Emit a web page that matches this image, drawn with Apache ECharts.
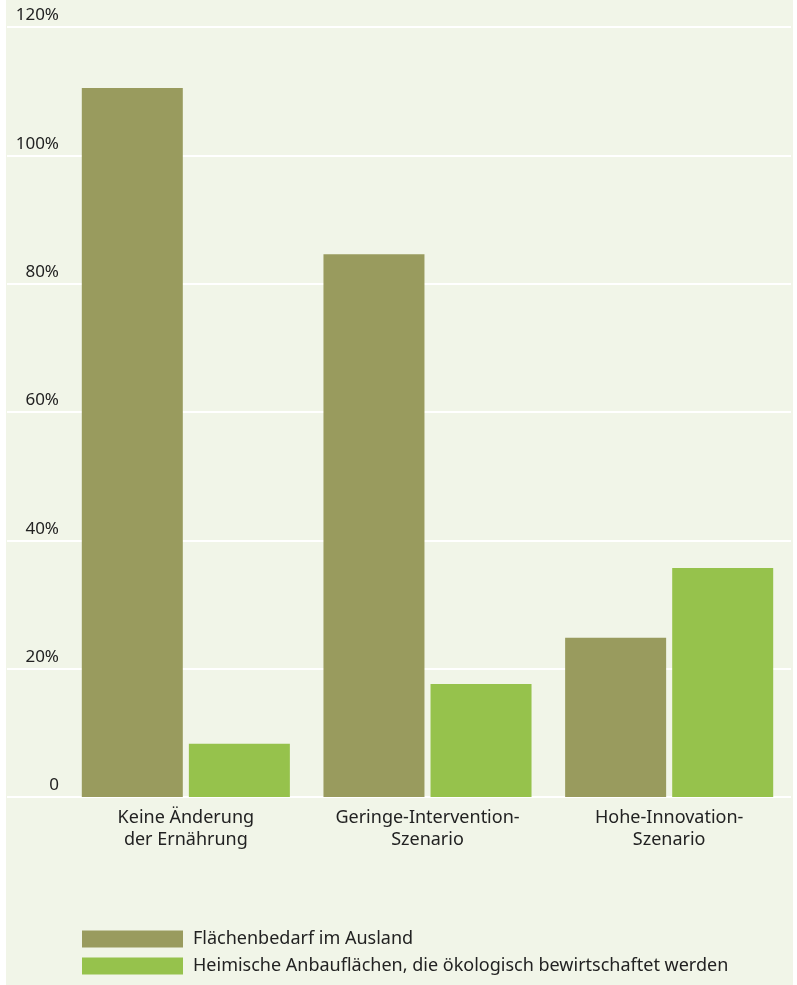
<!DOCTYPE html>
<html>
<head>
<meta charset="utf-8">
<script src="https://cdn.jsdelivr.net/npm/echarts@6/dist/echarts.min.js"></script>
<style>
  html, body { margin: 0; padding: 0; background: #ffffff; }
  #chart { width: 797px; height: 985px; }
</style>
</head>
<body>
<div id="chart"></div>
<script>
// Szenarien und Werte (in Prozent)
const categories = ['Keine Änderung\nder Ernährung', 'Geringe-Intervention-\nSzenario', 'Hohe-Innovation-\nSzenario'];
const seriesNames = ['Flächenbedarf im Ausland', 'Heimische Anbauflächen, die ökologisch bewirtschaftet werden'];
const auslandValues = [110.5, 84.6, 24.8];
const oekoValues = [8.3, 17.6, 35.7];
const yTicks = [0, 20, 40, 60, 80, 100, 120];

const FONT = '"Noto Sans", "Open Sans", sans-serif';
const TEXT = '#222222';
const OLIVE = '#999b5e';
const GREEN = '#96c24c';

const chart = echarts.init(document.getElementById('chart'), null, { renderer: 'canvas' });

const yMin = yTicks[0];
const yMax = yTicks[yTicks.length - 1];
const yStep = yTicks[1] - yTicks[0];

chart.setOption({
  backgroundColor: '#ffffff',
  animation: false,
  textStyle: { fontFamily: FONT },
  graphic: [{
    type: 'rect',
    z: -10,
    shape: { x: 6, y: 0, width: 787, height: 985 },
    style: { fill: '#f1f5e8' },
    silent: true
  }],
  grid: [
    // full-width grid carrying the white gridlines
    { left: 7, right: 6, top: 27, bottom: 188, containLabel: false },
    // plot grid carrying the bars, category labels and tick labels
    { left: 65, right: 7, top: 27, bottom: 188, containLabel: false }
  ],
  xAxis: [
    { type: 'category', gridIndex: 0, data: categories, show: false },
    {
      type: 'category', gridIndex: 1, data: categories,
      axisLine: { show: false }, axisTick: { show: false },
      axisLabel: {
        color: TEXT, fontSize: 18, lineHeight: 22, margin: 10,
        fontFamily: FONT, interval: 0
      }
    }
  ],
  yAxis: [
    {
      type: 'value', gridIndex: 0, min: yMin, max: yMax, interval: yStep,
      axisLine: { show: false }, axisTick: { show: false }, axisLabel: { show: false },
      splitLine: { show: true, lineStyle: { color: '#ffffff', width: 2 } }
    },
    {
      type: 'value', gridIndex: 1, min: yMin, max: yMax, interval: yStep,
      axisLine: { show: false }, axisTick: { show: false },
      splitLine: { show: false },
      axisLabel: {
        color: TEXT, fontSize: 17, fontFamily: FONT, margin: 6,
        verticalAlign: 'bottom', padding: [0, 0, 3, 0],
        formatter: v => (v === 0 ? '0' : v + '%')
      }
    }
  ],
  legend: {
    orient: 'vertical',
    left: 82, top: 930, padding: 0,
    itemWidth: 101, itemHeight: 17, itemGap: 9,
    icon: 'rect',
    selectedMode: false,
    data: seriesNames,
    textStyle: {
      color: TEXT, fontSize: 18, lineHeight: 18, fontFamily: FONT,
      padding: [0, 0, 0, 5]
    }
  },
  series: [
    {
      name: seriesNames[0], type: 'bar', xAxisIndex: 1, yAxisIndex: 1,
      data: auslandValues, barWidth: 101, barGap: '6%',
      itemStyle: { color: OLIVE }
    },
    {
      name: seriesNames[1], type: 'bar', xAxisIndex: 1, yAxisIndex: 1,
      data: oekoValues, barWidth: 101, barGap: '6%',
      itemStyle: { color: GREEN }
    }
  ]
});
</script>
</body>
</html>
